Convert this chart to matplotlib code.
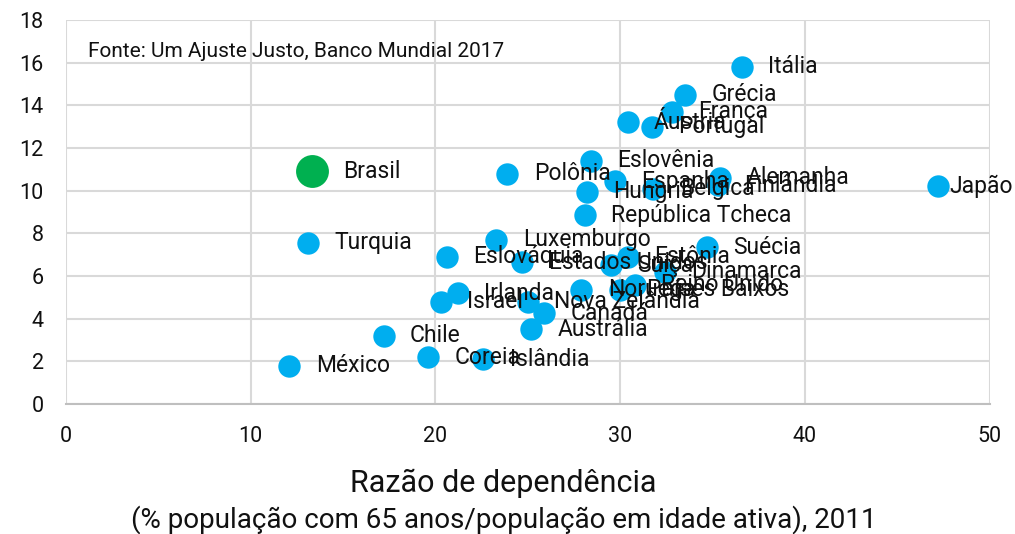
import matplotlib
matplotlib.use("Agg")
import matplotlib.pyplot as plt

plt.rcParams["font.family"] = ["Roboto", "DejaVu Sans"]

countries = [
    "Itália", "Grécia", "França", "Áustria", "Portugal", "Eslovênia", "Polônia",
    "Espanha", "Hungria", "Bélgica", "Alemanha", "Finlândia", "Japão",
    "República Tcheca", "Turquia", "Luxemburgo", "Eslováquia", "Estados Unidos",
    "Estônia", "Suíça", "Suécia", "Dinamarca", "Reino Unido", "Países Baixos",
    "Noruega", "Irlanda", "Israel", "Nova Zelândia", "Canadá", "Austrália",
    "Chile", "Coreia", "Islândia", "México",
]
dependency_ratio = [
    36.6, 33.5, 32.8, 30.4, 31.7, 28.4, 23.9,
    29.7, 28.2, 31.8, 35.4, 35.3, 47.2,
    28.1, 13.1, 23.3, 20.6, 24.7,
    30.4, 29.5, 34.7, 32.4, 30.8, 30.0,
    27.9, 21.2, 20.3, 25.0, 25.9, 25.2,
    17.2, 19.6, 22.6, 12.1,
]
spending = [
    15.8, 14.5, 13.7, 13.2, 13.0, 11.4, 10.8,
    10.45, 9.95, 10.1, 10.6, 10.25, 10.2,
    8.85, 7.55, 7.7, 6.9, 6.65,
    6.9, 6.5, 7.35, 6.2, 5.6, 5.35,
    5.35, 5.2, 4.8, 4.8, 4.25, 3.5,
    3.2, 2.2, 2.1, 1.8,
]
brazil_x = [13.3]
brazil_y = [10.9]
brazil_label = "Brasil"

fig = plt.figure(figsize=(10.15, 5.34), dpi=100)
ax = fig.add_axes([0.065, 0.2434, 0.910, 0.7191])

ax.scatter(dependency_ratio, spending, s=260, color="#00AEEF", linewidths=0, zorder=3)
ax.scatter(brazil_x, brazil_y, s=560, color="#00B050", linewidths=0, zorder=3)

for name, x, y in zip(countries, dependency_ratio, spending):
    # the rightmost label is pulled in so it stays inside the figure
    dx = 8 if x > 45 else 19
    ax.annotate(name, (x, y), xytext=(dx, 0), textcoords="offset points",
                va="center", ha="left", fontsize=16.5, color="#111111", zorder=4)
ax.annotate(brazil_label, (brazil_x[0], brazil_y[0]), xytext=(23, 0),
            textcoords="offset points", va="center", ha="left", fontsize=16.5,
            color="#111111", zorder=4)

ax.set_xlim(0, 50)
ax.set_ylim(0, 18)
ax.set_xticks(range(0, 51, 10))
ax.set_yticks(range(0, 19, 2))
ax.grid(True, color="#d9d9d9", linewidth=1.5, zorder=0)
ax.set_axisbelow(True)
for side in ("top", "right", "left"):
    ax.spines[side].set_visible(False)
ax.spines["bottom"].set_color("#bfbfbf")
ax.spines["bottom"].set_linewidth(1.5)
ax.tick_params(length=0, labelsize=15.5, colors="#111111")
ax.tick_params(axis="x", pad=16)
ax.tick_params(axis="y", pad=16)

ax.text(0.024, 0.917, "Fonte: Um Ajuste Justo, Banco Mundial 2017",
        transform=ax.transAxes, fontsize=15, color="#111111", va="center")

fig.text(0.496, 0.095, "Razão de dependência", ha="center", va="center",
         fontsize=22, color="#111111")
fig.text(0.496, 0.027, "(% população com 65 anos/população em idade ativa), 2011",
         ha="center", va="center", fontsize=20, color="#111111")

fig.savefig("out.png", dpi=100)
